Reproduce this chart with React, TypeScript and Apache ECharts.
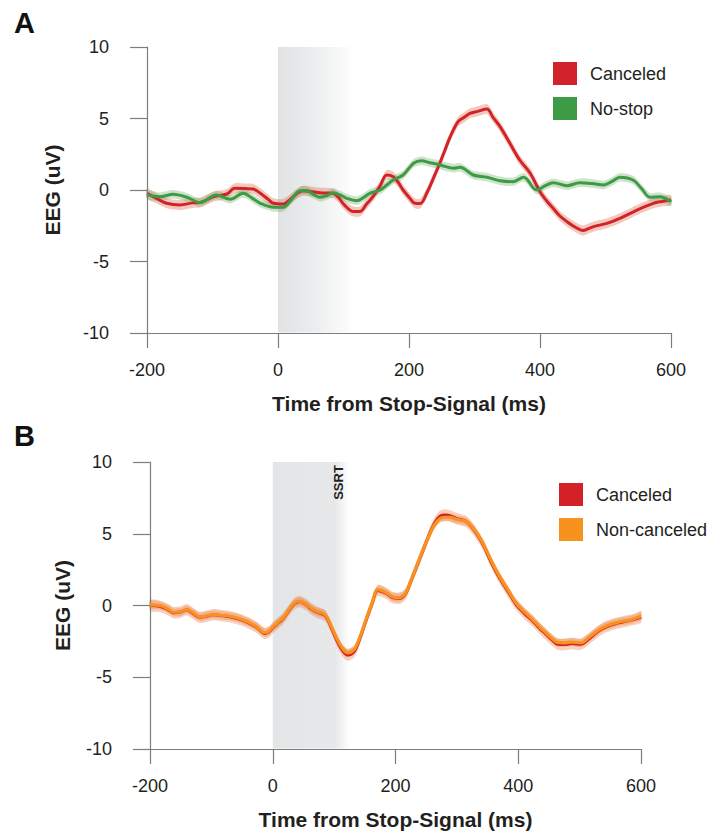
import React, { useEffect, useRef } from "react";
import * as echarts from "echarts";

const FONT = '"Liberation Sans", Arial, Helvetica, sans-serif';

// Axis ranges (ms / uV)
const xMin = -200;
const xMax = 600;
const xStep = 200;
const yMin = -10;
const yMax = 10;
const yStep = 5;

// Panel A : Canceled
const timeCanceledA = [-200, -185, -170, -150, -130, -119, -99, -78, -66, -50, -38, -27, -15, -7, 8, 20, 28, 38, 50, 64, 84, 92, 99, 107, 115, 125, 135, 145, 156, 166, 176, 184, 191, 200, 209, 217, 227, 237, 247, 255, 263, 275, 285, 293, 305, 319, 328, 339, 354, 369, 385, 400, 410, 420, 430, 441, 452, 466, 474, 482, 502, 522, 548, 573, 586, 600];
const eegCanceledA = [-0.23, -0.6, -0.93, -1.05, -0.9, -0.88, -0.47, -0.28, 0.12, 0.1, 0.07, -0.23, -0.65, -0.93, -0.98, -0.6, -0.28, -0.05, -0.1, -0.19, -0.23, -0.5, -0.93, -1.3, -1.51, -1.51, -1.0, -0.47, 0.3, 1.05, 0.93, 0.5, 0, -0.5, -0.93, -0.95, -0.23, 0.8, 1.87, 2.8, 3.73, 4.78, 5.1, 5.36, 5.5, 5.66, 5.1, 4.43, 3.27, 2.1, 1.17, -0.12, -0.75, -1.28, -1.8, -2.21, -2.55, -2.84, -2.7, -2.56, -2.33, -1.98, -1.4, -0.93, -0.8, -0.7];
const semCanceledA = 0.35;

// Panel A : No-stop
const timeNoStopA = [-200, -180, -160, -139, -119, -94, -73, -53, -40, -27, -7, 8, 20, 34, 44, 54, 64, 74, 84, 95, 105, 120, 130, 140, 156, 166, 176, 191, 207, 219, 232, 242, 255, 268, 278, 298, 319, 339, 359, 375, 395, 408, 420, 441, 461, 480, 497, 510, 522, 542, 555, 568, 583, 600];
const eegNoStopA = [-0.35, -0.47, -0.3, -0.51, -0.88, -0.35, -0.65, -0.23, -0.55, -0.93, -1.21, -1.21, -0.7, -0.05, -0.05, -0.3, -0.51, -0.4, -0.19, -0.35, -0.58, -0.75, -0.55, -0.23, 0, 0.35, 0.7, 1.05, 1.87, 2.05, 1.91, 1.82, 1.65, 1.52, 1.59, 1.05, 0.89, 0.65, 0.58, 0.89, 0, 0.3, 0.51, 0.3, 0.51, 0.45, 0.35, 0.6, 0.89, 0.7, 0.1, -0.51, -0.47, -0.82];
const semNoStopA = 0.3;

// Panel B : shared time base
const timeB = [-200, -184, -170, -162, -150, -140, -130, -119, -108, -97, -85, -70, -55, -43, -27, -13, -5, 0, 8, 17, 28, 36, 44, 55, 63, 71, 85, 95, 104, 113, 122, 133, 142, 152, 162, 171, 185, 195, 204, 210, 217, 223, 234, 244, 255, 263, 272, 280, 288, 300, 315, 328, 342, 355, 369, 383, 396, 410, 423, 435, 445, 455, 464, 476, 488, 502, 516, 532, 545, 559, 570, 580, 590, 600];
const eegCanceledB = [0.0, -0.05, -0.3, -0.5, -0.45, -0.3, -0.55, -0.82, -0.75, -0.65, -0.7, -0.78, -0.95, -1.15, -1.5, -1.95, -1.8, -1.55, -1.25, -0.9, -0.25, 0.15, 0.28, 0.05, -0.25, -0.45, -0.7, -1.5, -2.4, -3.1, -3.45, -3.2, -2.3, -1.05, 0.15, 1.05, 0.85, 0.55, 0.5, 0.55, 0.85, 1.45, 2.65, 3.75, 4.95, 5.7, 6.2, 6.3, 6.25, 6.05, 5.85, 5.25, 4.3, 3.1, 1.95, 1.0, 0.1, -0.55, -1.05, -1.6, -2.0, -2.4, -2.7, -2.72, -2.65, -2.7, -2.3, -1.75, -1.45, -1.25, -1.15, -1.05, -0.95, -0.8];
const eegNonCanceledB = [0.05, 0, -0.25, -0.47, -0.45, -0.28, -0.5, -0.79, -0.72, -0.63, -0.68, -0.75, -0.9, -1.1, -1.45, -1.9, -1.75, -1.5, -1.2, -0.86, -0.2, 0.19, 0.3, 0.07, -0.2, -0.4, -0.63, -1.4, -2.26, -2.95, -3.3, -3.05, -2.2, -0.98, 0.2, 1.1, 0.89, 0.6, 0.54, 0.6, 0.89, 1.5, 2.7, 3.8, 4.9, 5.6, 6.05, 6.15, 6.15, 6.0, 5.85, 5.3, 4.38, 3.2, 2.05, 1.1, 0.19, -0.45, -0.98, -1.5, -1.91, -2.3, -2.57, -2.6, -2.55, -2.61, -2.2, -1.68, -1.4, -1.21, -1.1, -1.03, -0.9, -0.75];
const semCanceledB = 0.4;
const semNonCanceledB = 0.28;

// Shaded windows (ms): stop-signal onset to SSRT
const shadeA = [0, 115];
const shadeB = [0, 125];

const COLORS = {
  redA: "#d2232a",
  greenA: "#3d9b46",
  redB: "#d42027",
  orangeB: "#f7921e",
  bandRed: "rgba(222,105,75,0.36)",
  bandGreen: "rgba(110,172,100,0.34)",
  bandB: "rgba(236,125,70,0.36)",
  axis: "#7d7d7d",
  text: "#231f20",
};

function pairs(t: number[], v: number[]) {
  return t.map((x, i) => [x, v[i]]);
}

function bandSeries(idx: number, t: number[], v: number[], sem: number, fill: string) {
  return {
    type: "custom",
    xAxisIndex: idx,
    yAxisIndex: idx,
    silent: true,
    z: 2,
    data: [[t[0], v[0]]],
    renderItem: (_p: any, api: any) => {
      const upper = t.map((x, i) => api.coord([x, v[i] + sem]));
      const lower = t.map((x, i) => api.coord([x, v[i] - sem])).reverse();
      return {
        type: "polygon",
        shape: { points: upper.concat(lower), smooth: 0.25 },
        style: { fill },
      };
    },
  };
}

function shadeSeries(idx: number, range: number[], stops: any[]) {
  return {
    type: "custom",
    xAxisIndex: idx,
    yAxisIndex: idx,
    silent: true,
    z: 1,
    encode: { x: [0, 1] },
    data: [[range[0], range[1]]],
    renderItem: (_p: any, api: any) => {
      const tl = api.coord([api.value(0), yMax]);
      const br = api.coord([api.value(1), yMin]);
      return {
        type: "rect",
        shape: { x: tl[0], y: tl[1], width: br[0] - tl[0], height: br[1] - tl[1] - 0.5 },
        style: { fill: new echarts.graphic.LinearGradient(0, 0, 1, 0, stops) },
      };
    },
  };
}

function lineSeries(name: string, idx: number, t: number[], v: number[], color: string, width: number, z: number) {
  return {
    type: "line",
    name,
    xAxisIndex: idx,
    yAxisIndex: idx,
    data: pairs(t, v),
    showSymbol: false,
    symbol: "none",
    smooth: 0.35,
    silent: true,
    z,
    lineStyle: { color, width },
    itemStyle: { color },
  };
}

function xAxisCfg(idx: number) {
  return {
    type: "value",
    gridIndex: idx,
    min: xMin,
    max: xMax,
    interval: xStep,
    z: 5,
    axisLine: { show: true, onZero: false, lineStyle: { color: COLORS.axis, width: 1.2 } },
    axisTick: { show: true, length: 15, lineStyle: { color: COLORS.axis, width: 1.2 } },
    axisLabel: { fontSize: 18, color: COLORS.text, margin: 28, fontFamily: FONT },
    splitLine: { show: false },
    name: "Time from Stop-Signal (ms)",
    nameLocation: "middle",
    nameGap: 60,
    nameTextStyle: { fontSize: 21, fontWeight: "bold", color: COLORS.text, fontFamily: FONT },
  };
}

function yAxisCfg(idx: number, gap: number) {
  return {
    type: "value",
    gridIndex: idx,
    min: yMin,
    max: yMax,
    interval: yStep,
    z: 5,
    axisLine: { show: true, onZero: false, lineStyle: { color: COLORS.axis, width: 1.2 } },
    axisTick: { show: true, length: 17, lineStyle: { color: COLORS.axis, width: 1.2 } },
    axisLabel: { fontSize: 18, color: COLORS.text, margin: 38, fontFamily: FONT },
    splitLine: { show: false },
    name: "EEG (uV)",
    nameLocation: "middle",
    nameGap: gap,
    nameRotate: 90,
    nameTextStyle: { fontSize: 21, fontWeight: "bold", color: COLORS.text, fontFamily: FONT },
  };
}

function legendItem(x: number, y: number, color: string, label: string) {
  return [
    { type: "rect", z: 10, shape: { x, y, width: 24, height: 23 }, style: { fill: color } },
    {
      type: "text",
      z: 10,
      x: x + 37,
      y: y + 11.5,
      style: { text: label, fontSize: 18, fontFamily: FONT, fill: COLORS.text, textVerticalAlign: "middle", textAlign: "left" },
    },
  ];
}

export default function App() {
  const ref = useRef<HTMLDivElement>(null);
  useEffect(() => {
    if (!ref.current) return;
    const chart = echarts.init(ref.current, undefined, { renderer: "svg" });
    chart.setOption({
      animation: false,
      backgroundColor: "#ffffff",
      grid: [
        { left: 147, top: 47, width: 524, height: 286 },
        { left: 150, top: 462, width: 491, height: 287 },
      ],
      xAxis: [xAxisCfg(0), xAxisCfg(1)],
      yAxis: [yAxisCfg(0, 84), yAxisCfg(1, 77)],
      series: [
        shadeSeries(0, shadeA, [
          { offset: 0, color: "#e1e2e4" },
          { offset: 0.55, color: "#eeeff0" },
          { offset: 0.92, color: "#fbfbfb" },
          { offset: 1, color: "#ffffff" },
        ]),
        shadeSeries(1, shadeB, [
          { offset: 0, color: "#e4e5e7" },
          { offset: 0.82, color: "#e7e8e9" },
          { offset: 1, color: "#ffffff" },
        ]),
        bandSeries(0, timeCanceledA, eegCanceledA, semCanceledA, COLORS.bandRed),
        bandSeries(0, timeNoStopA, eegNoStopA, semNoStopA, COLORS.bandGreen),
        lineSeries("Canceled", 0, timeCanceledA, eegCanceledA, COLORS.redA, 3, 4),
        lineSeries("No-stop", 0, timeNoStopA, eegNoStopA, COLORS.greenA, 3, 4),
        bandSeries(1, timeB, eegCanceledB, semCanceledB, COLORS.bandB),
        bandSeries(1, timeB, eegNonCanceledB, semNonCanceledB, COLORS.bandB),
        lineSeries("Canceled", 1, timeB, eegCanceledB, COLORS.redB, 3, 4),
        lineSeries("Non-canceled", 1, timeB, eegNonCanceledB, COLORS.orangeB, 3.2, 5),
      ],
      graphic: [
        { type: "text", z: 10, x: 14, y: 23, style: { text: "A", fontSize: 29, fontWeight: "bold", fontFamily: FONT, fill: "#111", textVerticalAlign: "middle" } },
        { type: "text", z: 10, x: 14, y: 436, style: { text: "B", fontSize: 29, fontWeight: "bold", fontFamily: FONT, fill: "#111", textVerticalAlign: "middle" } },
        ...legendItem(553, 62, COLORS.redA, "Canceled"),
        ...legendItem(553, 97, COLORS.greenA, "No-stop"),
        ...legendItem(559, 483, COLORS.redB, "Canceled"),
        ...legendItem(559, 518, COLORS.orangeB, "Non-canceled"),
        {
          type: "text",
          z: 20,
          x: 338.5,
          y: 482.5,
          rotation: Math.PI / 2,
          style: { text: "SSRT", fontSize: 13, fontWeight: "bold", fontFamily: FONT, fill: COLORS.text, textAlign: "center", textVerticalAlign: "middle" },
        },
      ],
    });
    return () => chart.dispose();
  }, []);
  return <div ref={ref} style={{ position: "absolute", left: 0, top: 0, width: 710, height: 833 }} />;
}
